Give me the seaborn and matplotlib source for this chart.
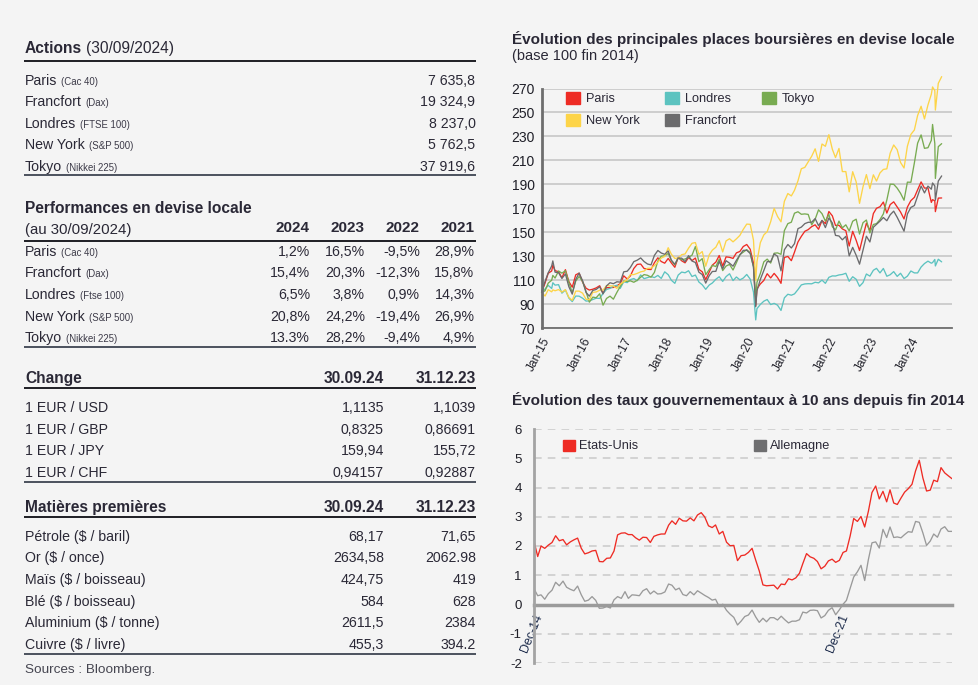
import matplotlib
matplotlib.use('Agg')
import matplotlib.pyplot as plt
import matplotlib.dates as mdates
from matplotlib.patches import Patch
from matplotlib import font_manager
import pandas as pd
import seaborn as sns

# ---------------- tables (left column) ----------------
actions_names = ['Paris', 'Francfort', 'Londres', 'New York', 'Tokyo']
actions_index = ['(Cac 40)', '(Dax)', '(FTSE 100)', '(S&P 500)', '(Nikkei 225)']
actions_values = ['7 635,8', '19 324,9', '8 237,0', '5 762,5', '37 919,6']

perf_years = ['2024', '2023', '2022', '2021']
perf_index = ['(Cac 40)', '(Dax)', '(Ftse 100)', '(S&P 500)', '(Nikkei 225)']
perf_values = [['1,2%', '16,5%', '-9,5%', '28,9%'],
               ['15,4%', '20,3%', '-12,3%', '15,8%'],
               ['6,5%', '3,8%', '0,9%', '14,3%'],
               ['20,8%', '24,2%', '-19,4%', '26,9%'],
               ['13.3%', '28,2%', '-9,4%', '4,9%']]

col_dates = ['30.09.24', '31.12.23']
fx_names = ['1 EUR / USD', '1 EUR / GBP', '1 EUR / JPY', '1 EUR / CHF']
fx_values = [['1,1135', '1,1039'], ['0,8325', '0,86691'],
             ['159,94', '155,72'], ['0,94157', '0,92887']]

mp_names = ['Pétrole ($ / baril)', 'Or ($ / once)', 'Maïs ($ / boisseau)',
            'Blé ($ / boisseau)', 'Aluminium ($ / tonne)', 'Cuivre ($ / livre)']
mp_values = [['68,17', '71,65'], ['2634,58', '2062.98'], ['424,75', '419'],
             ['584', '628'], ['2611,5', '2384'], ['455,3', '394.2']]

# ---------------- stock indices, base 100 end 2014 (month ends Dec-14 .. Sep-24) ----------------
places = ['Paris', 'Londres', 'Tokyo', 'New York', 'Francfort']
paris = [100.0,
         107.8, 115.9, 117.8, 118.1, 117.2, 112.1, 118.9, 108.9, 104.3, 114.6, 116.0, 108.5,
         103.4, 101.9, 102.6, 103.7, 105.5, 99.2, 103.9, 103.9, 104.1, 105.5, 107.2, 113.8,
         111.1, 113.7, 119.9, 123.3, 123.6, 119.9, 119.2, 119.0, 124.7, 128.8, 125.7, 124.3,
         128.3, 124.5, 120.9, 129.2, 126.3, 124.6, 129.0, 126.5, 128.6, 119.2, 117.1, 110.7,
         116.9, 122.7, 125.2, 130.7, 121.9, 129.6, 129.2, 128.3, 132.9, 134.1, 138.2, 139.9,
         135.9, 124.3, 102.9, 107.0, 109.9, 115.5, 112.0, 115.8, 112.4, 107.5, 129.1, 129.9,
         126.4, 133.5, 142.0, 146.7, 150.9, 152.3, 154.8, 156.3, 152.6, 159.9, 157.3, 167.4,
         163.8, 155.8, 155.9, 152.9, 151.4, 138.6, 150.9, 143.4, 134.9, 146.7, 157.7, 151.5,
         165.7, 170.1, 171.4, 175.3, 166.1, 173.2, 175.5, 171.2, 167.0, 161.2, 171.1, 176.5,
         179.2, 185.5, 192.1, 186.9, 187.1, 175.0, 176.3, 178.6, 178.7]
francfort = [100.0,
             109.1, 116.3, 122.0, 116.8, 116.4, 111.6, 115.3, 104.6, 98.5, 110.7, 116.1, 109.6,
             99.9, 96.8, 101.6, 102.4, 104.7, 98.7, 105.4, 108.0, 107.2, 108.8, 108.5, 117.1,
             117.6, 120.7, 125.6, 126.8, 128.7, 125.7, 123.6, 122.9, 130.8, 134.9, 132.8, 131.7,
             134.5, 126.8, 123.4, 128.6, 128.5, 125.5, 130.6, 126.1, 124.9, 116.8, 114.8, 107.7,
             113.9, 117.4, 117.5, 125.9, 119.6, 126.4, 124.3, 121.8, 126.7, 131.2, 135.0, 135.1,
             132.4, 121.3, 101.3, 110.8, 118.2, 125.6, 125.6, 132.0, 130.1, 117.9, 135.5, 139.9,
             137.0, 140.6, 153.1, 154.4, 157.3, 158.4, 158.5, 161.5, 155.6, 160.0, 154.0, 162.0,
             157.8, 147.5, 147.0, 143.8, 146.7, 130.4, 137.5, 130.9, 123.5, 135.2, 146.8, 142.0,
             154.3, 156.7, 159.4, 162.4, 159.7, 164.7, 167.7, 162.6, 156.9, 151.0, 165.4, 170.8,
             172.4, 180.3, 188.6, 182.9, 188.6, 186.0, 188.7, 192.8, 197.1]
londres = [100.0,
           102.8, 105.8, 103.2, 106.0, 106.4, 99.3, 102.0, 95.2, 92.3, 96.9, 96.8, 95.1,
           92.7, 92.9, 94.0, 95.1, 94.9, 99.1, 102.4, 103.3, 105.1, 105.9, 103.3, 108.8,
           108.1, 110.6, 111.5, 109.7, 114.5, 111.4, 112.3, 113.2, 112.3, 114.1, 111.6, 117.1,
           114.7, 110.1, 107.5, 114.4, 116.9, 116.3, 118.0, 113.2, 114.4, 108.6, 106.3, 102.5,
           106.1, 107.8, 110.9, 113.0, 109.1, 113.1, 115.5, 109.8, 112.8, 110.4, 111.9, 114.9,
           111.0, 100.2, 86.4, 89.9, 92.6, 94.0, 89.8, 90.8, 89.3, 84.9, 95.4, 98.4,
           97.6, 98.7, 102.3, 106.2, 107.0, 107.2, 107.1, 108.4, 107.9, 110.2, 107.5, 112.5,
           113.7, 113.6, 114.5, 114.9, 115.9, 109.2, 113.0, 110.9, 105.0, 108.1, 115.3, 113.5,
           118.4, 120.0, 116.2, 119.9, 113.4, 114.7, 117.3, 113.3, 115.9, 111.5, 113.5, 117.8,
           116.2, 116.2, 121.1, 124.0, 126.0, 124.3, 127.4, 127.6, 125.4]
new_york = [100.0,
            96.9, 102.2, 100.4, 101.3, 102.3, 100.2, 102.2, 95.8, 93.3, 101.0, 101.0, 99.3,
            94.2, 93.8, 100.0, 100.3, 101.8, 101.9, 105.6, 105.4, 105.3, 103.3, 106.8, 108.7,
            110.7, 114.8, 114.8, 115.8, 117.1, 117.7, 120.0, 120.1, 122.3, 125.1, 128.6, 129.9,
            137.2, 131.8, 128.3, 128.6, 131.4, 132.0, 136.8, 140.9, 141.5, 131.7, 134.0, 121.8,
            131.3, 135.2, 137.6, 143.1, 133.7, 142.9, 144.7, 142.1, 144.6, 147.5, 152.5, 156.9,
            156.7, 143.5, 125.6, 141.4, 147.9, 150.6, 158.9, 170.0, 163.3, 158.8, 175.9, 182.4,
            180.4, 185.1, 193.0, 203.1, 204.2, 208.8, 213.5, 219.7, 209.2, 223.7, 221.8, 231.5,
            219.3, 212.4, 220.0, 200.7, 200.7, 183.8, 200.6, 192.1, 174.2, 188.1, 198.2, 186.5,
            198.0, 192.8, 199.6, 202.5, 203.0, 216.1, 222.9, 219.0, 208.3, 203.7, 221.9, 231.7,
            235.4, 247.5, 255.2, 244.6, 256.3, 265.2, 268.2, 274.3, 279.9]
tokyo = [100.0,
         101.3, 107.7, 110.1, 111.9, 117.8, 116.0, 118.0, 108.2, 99.6, 109.4, 113.2, 109.1,
         100.4, 91.8, 96.0, 95.5, 98.8, 89.3, 94.9, 96.8, 94.3, 99.9, 104.9, 109.5,
         109.1, 109.6, 108.4, 110.0, 112.6, 114.8, 114.2, 112.6, 116.6, 126.1, 130.2, 130.5,
         132.4, 126.5, 122.9, 128.8, 127.2, 127.8, 129.2, 131.0, 138.2, 125.6, 128.1, 114.7,
         119.0, 122.5, 121.5, 127.6, 118.1, 121.9, 123.3, 118.6, 124.7, 131.4, 133.5, 135.6,
         133.0, 121.2, 108.4, 115.7, 125.4, 127.7, 124.4, 132.6, 132.9, 131.7, 151.5, 157.3,
         158.5, 166.0, 167.2, 165.1, 165.4, 165.0, 156.3, 161.0, 168.8, 165.6, 159.4, 165.0,
         154.7, 152.0, 159.4, 153.8, 156.3, 151.2, 159.3, 161.0, 148.6, 158.1, 160.3, 149.5,
         156.6, 157.3, 160.7, 165.4, 177.0, 190.2, 190.1, 186.9, 182.6, 176.8, 191.9, 191.8,
         207.9, 224.4, 231.3, 220.1, 220.6, 226.8, 224.1, 221.5, 224.0]
# a few intra-month extremes visible on the chart
eq_extra_dates = ['2015-04-10', '2020-03-20', '2024-07-11', '2024-08-05']
paris_extra = [122.6, 89.0, 177.3, 167.3]
francfort_extra = [126.2, 88.0, 191.2, 176.8]
londres_extra = [108.0, 77.0, 124.8, 122.0]
new_york_extra = [102.1, 110.0, 271.3, 252.0]
tokyo_extra = [114.1, 95.0, 240.0, 195.0]

# ---------------- 10y government yields (month ends Dec-14 .. Jul-24) ----------------
etats_unis = [2.17,
              1.64, 2.00, 1.92, 2.03, 2.12, 2.35, 2.18, 2.22, 2.04, 2.14, 2.21, 2.27,
              1.92, 1.73, 1.77, 1.83, 1.85, 1.47, 1.46, 1.58, 1.59, 1.83, 2.38, 2.44,
              2.45, 2.39, 2.39, 2.28, 2.20, 2.30, 2.29, 2.12, 2.33, 2.38, 2.41, 2.41,
              2.71, 2.86, 2.74, 2.95, 2.86, 2.85, 2.96, 2.86, 3.06, 3.14, 2.99, 2.69,
              2.63, 2.72, 2.41, 2.50, 2.13, 2.01, 2.02, 1.50, 1.67, 1.69, 1.78, 1.92,
              1.51, 1.15, 0.67, 0.64, 0.65, 0.66, 0.53, 0.70, 0.68, 0.88, 0.84, 0.91,
              1.07, 1.40, 1.74, 1.63, 1.58, 1.47, 1.22, 1.31, 1.49, 1.55, 1.44, 1.51,
              1.78, 1.83, 2.34, 2.94, 2.84, 3.01, 2.65, 3.19, 3.83, 4.05, 3.61, 3.87,
              3.51, 3.92, 3.47, 3.42, 3.64, 3.84, 3.96, 4.11, 4.57, 4.93, 4.33, 3.88,
              3.91, 4.25, 4.20, 4.68, 4.50, 4.40, 4.30]
allemagne = [0.54,
             0.30, 0.33, 0.18, 0.37, 0.49, 0.76, 0.64, 0.80, 0.59, 0.52, 0.47, 0.63,
             0.33, 0.11, 0.15, 0.27, 0.14, -0.13, -0.12, -0.07, -0.12, 0.16, 0.27, 0.21,
             0.44, 0.21, 0.33, 0.32, 0.30, 0.47, 0.54, 0.36, 0.46, 0.36, 0.37, 0.43,
             0.70, 0.66, 0.50, 0.56, 0.34, 0.30, 0.44, 0.33, 0.47, 0.39, 0.31, 0.24,
             0.15, 0.18, -0.07, 0.01, -0.20, -0.33, -0.44, -0.70, -0.57, -0.41, -0.36, -0.19,
             -0.43, -0.61, -0.47, -0.59, -0.45, -0.45, -0.53, -0.40, -0.52, -0.63, -0.57, -0.57,
             -0.52, -0.26, -0.29, -0.20, -0.19, -0.21, -0.46, -0.38, -0.20, -0.11, -0.35, -0.18,
             0.01, 0.14, 0.55, 0.94, 1.12, 1.34, 0.82, 1.54, 2.11, 2.14, 1.93, 2.57,
             2.29, 2.65, 2.29, 2.31, 2.28, 2.39, 2.49, 2.47, 2.84, 2.81, 2.45, 2.02,
             2.17, 2.41, 2.30, 2.58, 2.66, 2.50, 2.50]

BG = '#f4f4f4'
TXT = '#2a2836'
SUB = '#3c3a48'
eq_colors = {'Paris': '#ee2b24', 'Londres': '#5cc3c0', 'Tokyo': '#78ab51',
             'New York': '#fdd448', 'Francfort': '#6b6b6d'}

sns.set_style('white', {'axes.facecolor': BG, 'figure.facecolor': BG})
names = {f.name for f in font_manager.fontManager.ttflist}
plt.rcParams['font.family'] = ['Liberation Sans', 'DejaVu Sans']
plt.rcParams['axes.unicode_minus'] = False
NARROW = 'Liberation Sans Narrow' if 'Liberation Sans Narrow' in names else 'Liberation Sans'
narrow_ok = NARROW == 'Liberation Sans Narrow'

fig = plt.figure(figsize=(9.79, 6.85), dpi=100)
fig.patch.set_facecolor(BG)

# pixel canvas for the tables and titles
ax0 = fig.add_axes([0, 0, 1, 1])
ax0.set_xlim(0, 979)
ax0.set_ylim(685, 0)
ax0.axis('off')
renderer = fig.canvas.get_renderer()


def put(x, y, s, size=10.2, bold=False, ha='left', color=TXT):
    return ax0.text(x, y, s, fontsize=size, fontweight='bold' if bold else 'normal',
                    ha=ha, va='baseline', color=color, parse_math=False)


def put_after(t, s, size, gap=4, bold=False, color=TXT):
    x1 = t.get_window_extent(renderer).x1
    return put(x1 + gap, t.get_position()[1], s, size, bold, color=color)


def rule(y, color='#1e1e24', lw=1.4):
    ax0.plot([24, 476.5], [y, y], color=color, lw=lw, solid_capstyle='butt')


# Actions
t = put(25, 53, 'Actions', 11.2, True)
put_after(t, '(30/09/2024)', 11.2, gap=4)
rule(60.7)
for i, (n, idx, v) in enumerate(zip(actions_names, actions_index, actions_values)):
    y = 85 + i * 21.4
    t = put(25, y, n)
    put_after(t, idx, 6.9, color=SUB)
    put(475.5, y, v, ha='right')
rule(175.3, '#3e4452', 1.3)

# Performances
put(25, 212.7, 'Performances en devise locale', 11.2, True)
put(25, 233.5, '(au 30/09/2024)', 10.8)
perf_x = [310, 365, 420, 474.5]
for x, yr in zip(perf_x, perf_years):
    put(x, 231.7, yr, 11, True, ha='right')
rule(240.7)
for i, (n, idx, vals) in enumerate(zip(actions_names, perf_index, perf_values)):
    y = 255.8 + i * 21.6
    t = put(25, y, n)
    put_after(t, idx, 6.9, color=SUB)
    for x, v in zip(perf_x, vals):
        put(x, y, v, ha='right')
rule(346.7, '#3e4452', 1.3)

# Change
two_x = [384, 476]
put(25, 382.7, 'Change', 11.2, True)
for x, d in zip(two_x, col_dates):
    put(x, 382.7, d, 11.2, True, ha='right')
rule(388.3)
for i, (n, vals) in enumerate(zip(fx_names, fx_values)):
    y = 412.3 + i * 21.5
    put(25, y, n)
    for x, v in zip(two_x, vals):
        put(x, y, v, ha='right')
rule(482.3, '#3e4452', 1.3)

# Matieres premieres
put(25, 511.7, 'Matières premières', 11.2, True)
for x, d in zip(two_x, col_dates):
    put(x, 511.7, d, 11.2, True, ha='right')
rule(517.3)
for i, (n, vals) in enumerate(zip(mp_names, mp_values)):
    y = 540.7 + i * 21.65
    put(25, y, n)
    for x, v in zip(two_x, vals):
        put(x, y, v, ha='right')
rule(654.3, '#3e4452', 1.3)
put(25, 672.7, 'Sources : Bloomberg.', 9.7, color='#454550')

# titles of the right column
put(512, 44, 'Évolution des principales places boursières en devise locale', 11, True)
put(512, 60, '(base 100 fin 2014)', 10.5)
put(512, 405, 'Évolution des taux gouvernementaux à 10 ans depuis fin 2014', 11, True)

# ---------------- chart 1: stock indices ----------------
eq_months = pd.date_range('2014-12-01', periods=len(paris), freq='MS') + pd.offsets.MonthEnd(0)
eq = pd.DataFrame({'date': eq_months, 'Paris': paris, 'Londres': londres, 'Tokyo': tokyo,
                   'New York': new_york, 'Francfort': francfort})
eq_x = pd.DataFrame({'date': pd.to_datetime(eq_extra_dates), 'Paris': paris_extra,
                     'Londres': londres_extra, 'Tokyo': tokyo_extra,
                     'New York': new_york_extra, 'Francfort': francfort_extra})
eq = pd.concat([eq, eq_x]).sort_values('date')
eq_long = eq.melt(id_vars='date', var_name='place', value_name='indice')

ax1 = fig.add_axes([541.7 / 979, 1 - 328.3 / 685, 410.3 / 979, 239.8 / 685])
ax1.set_facecolor(BG)
sns.lineplot(data=eq_long, x='date', y='indice', hue='place', hue_order=places,
             palette=eq_colors, linewidth=0.95, legend=False, estimator=None, ax=ax1)
for ln in ax1.lines:
    ln.set_clip_on(False)
ax1.set_xlim(pd.Timestamp('2015-01-01'), pd.Timestamp('2024-12-31'))
ax1.set_ylim(70, 270)
ax1.set_yticks(range(70, 271, 20))
ax1.yaxis.grid(True, color='#cdcdcd', lw=1.4)
ax1.set_axisbelow(True)
ax1.set_xlabel('')
ax1.set_ylabel('')
for s in ['top', 'right']:
    ax1.spines[s].set_visible(False)
ax1.spines['left'].set_color('#6e6e6e')
ax1.spines['left'].set_linewidth(2)
ax1.spines['bottom'].set_color('#6e6e6e')
ax1.spines['bottom'].set_linewidth(1.3)
ax1.xaxis.set_major_locator(mdates.YearLocator())
ax1.xaxis.set_major_formatter(mdates.DateFormatter('%b-%y'))
ax1.xaxis.set_minor_locator(mdates.MonthLocator())
ax1.tick_params(axis='x', which='major', length=4, width=1, color='#6e6e6e', pad=1,
                labelsize=9.8 if narrow_ok else 8.6, labelcolor='#1f1f28')
ax1.tick_params(axis='x', which='minor', length=2, width=0.8, color='#6e6e6e')
ax1.tick_params(axis='y', length=0, pad=5, labelsize=11.5 if narrow_ok else 10,
                labelcolor='#1f1f28')
for lab in ax1.get_xticklabels():
    lab.set_family(NARROW)
    lab.set_rotation(62)
    lab.set_ha('right')
    lab.set_rotation_mode('anchor')
for lab in ax1.get_yticklabels():
    lab.set_family(NARROW)

order = ['Paris', 'New York', 'Londres', 'Francfort', 'Tokyo']
ax1.legend(handles=[Patch(color=eq_colors[p]) for p in order], labels=order, ncol=3,
           loc='upper left', bbox_to_anchor=(0.059, 0.985), frameon=False, fontsize=9.2,
           handlelength=1.1, handleheight=1.0, handletextpad=0.45, columnspacing=2.0,
           labelspacing=0.7, borderpad=0, borderaxespad=0, labelcolor=TXT)

# ---------------- chart 2: 10y yields ----------------
bond_months = pd.date_range('2014-12-01', periods=len(etats_unis), freq='MS') + pd.offsets.MonthEnd(0)
bonds = pd.DataFrame({'date': bond_months, 'Etats-Unis': etats_unis, 'Allemagne': allemagne})
bonds_long = bonds.melt(id_vars='date', var_name='pays', value_name='taux')

ax2 = fig.add_axes([534 / 979, 1 - 663 / 685, 418 / 979, 234 / 685])
ax2.set_facecolor(BG)
sns.lineplot(data=bonds_long, x='date', y='taux', hue='pays',
             hue_order=['Etats-Unis', 'Allemagne'],
             palette={'Etats-Unis': '#ee2b24', 'Allemagne': '#9a9a9a'},
             linewidth=0.95, legend=False, estimator=None, ax=ax2)
ax2.set_xlim(pd.Timestamp('2014-12-31'), pd.Timestamp('2024-07-31'))
ax2.set_ylim(-2, 6)
ax2.set_yticks(range(-2, 7))
ax2.yaxis.grid(True, color='#c9c9c9', lw=1.1, ls=(0, (5, 4)))
ax2.set_axisbelow(True)
ax2.set_xlabel('')
ax2.set_ylabel('')
for s in ['top', 'right']:
    ax2.spines[s].set_visible(False)
ax2.spines['left'].set_color('#a3a3a3')
ax2.spines['left'].set_linewidth(2)
ax2.spines['bottom'].set_position(('data', 0))
ax2.spines['bottom'].set_color('#9b9b9b')
ax2.spines['bottom'].set_linewidth(2.5)
ax2.spines['bottom'].set_zorder(1.5)
ax2.set_xticks([mdates.date2num(pd.Timestamp('2014-12-31')),
                mdates.date2num(pd.Timestamp('2021-12-31'))])
ax2.set_xticklabels(['Dec-14', 'Dec-21'])
ax2.xaxis.set_minor_locator(mdates.MonthLocator(bymonth=(3, 6, 9, 12)))
ax2.tick_params(axis='x', which='both', length=3, width=2, color='#9b9b9b')
ax2.tick_params(axis='x', which='major', pad=3, labelsize=9, labelcolor='#1b2a4a')
ax2.tick_params(axis='y', length=0, pad=8.8, labelsize=9.5, labelcolor='#1f1f28')
for lab in ax2.get_xticklabels():
    lab.set_rotation(68)
    lab.set_ha('right')
    lab.set_rotation_mode('anchor')

ax2.legend(handles=[Patch(color='#ee2b24'), Patch(color='#6e6e70')],
           labels=['Etats-Unis', 'Allemagne'], ncol=2, loc='upper left',
           bbox_to_anchor=(0.069, 0.955), frameon=False, fontsize=9.2,
           handlelength=0.95, handleheight=0.95, handletextpad=0.35, columnspacing=9.0,
           borderpad=0, borderaxespad=0, labelcolor=TXT)

fig.savefig('out.png', dpi=100, facecolor=BG)
